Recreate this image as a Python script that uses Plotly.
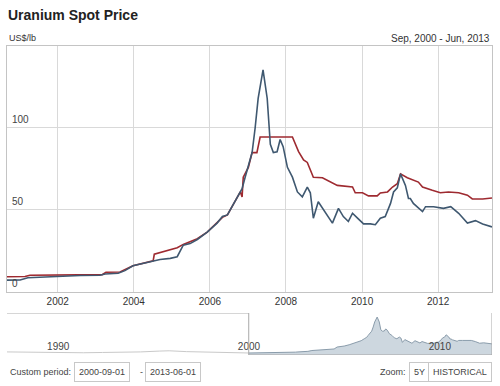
import plotly.graph_objects as go

# ---- data ----
spot_dates = ["2000-09-01","2001-01-05","2001-03-20","2001-07-12","2002-01-01","2002-08-04","2003-02-10","2003-04-01",
              "2003-08-04","2003-10-08","2003-12-24","2004-05-08","2004-07-05","2004-09-09","2004-12-16","2005-02-21",
              "2005-04-20","2005-06-25","2005-09-02","2005-12-06","2006-03-11","2006-05-01","2006-06-18","2006-07-24",
              "2006-10-01","2006-11-06","2006-12-05","2007-01-05","2007-02-10","2007-03-11","2007-04-09","2007-05-26",
              "2007-07-05","2007-08-04","2007-09-02","2007-10-08","2007-11-06","2007-12-05","2008-01-15","2008-03-03",
              "2008-04-20","2008-06-06","2008-07-24","2008-08-22","2008-09-20","2008-11-06","2009-01-15","2009-03-22",
              "2009-05-19","2009-07-05","2009-08-22","2009-10-01","2009-11-18","2010-01-15","2010-03-22","2010-05-08",
              "2010-06-25","2010-08-11","2010-10-01","2010-10-30","2010-12-05","2011-01-05","2011-02-21","2011-03-22",
              "2011-04-09","2011-05-08","2011-08-04","2011-09-02","2011-11-18","2012-02-21","2012-05-01","2012-07-16",
              "2012-10-08","2012-12-24","2013-03-03","2013-06-01"]
spot_values = [7.2, 7.3, 8.7, 9.0, 9.6, 10.0, 10.2, 11.0,
               11.4, 13.0, 16.0, 18.0, 19.0, 19.8, 20.5, 21.5,
               28.5, 29.5, 32.0, 36.5, 42.0, 46.0, 47.0, 51.0,
               59.0, 63.0, 70.0, 77.0, 85.0, 100.0, 118.0, 135.5,
               118.0, 90.0, 85.0, 85.5, 93.0, 88.6, 76.0, 70.0,
               61.0, 58.0, 64.0, 60.5, 45.0, 55.0, 48.0, 42.0,
               51.0, 46.0, 43.0, 48.0, 45.0, 41.5, 41.5, 41.0,
               45.0, 46.0, 54.0, 61.0, 63.5, 72.0, 65.0, 57.0,
               57.0, 54.0, 49.0, 52.0, 52.0, 51.0, 52.0, 48.0,
               42.0, 43.5, 41.5, 39.7]

lt_dates = ["2000-09-01","2001-02-21","2001-04-09","2002-01-01","2003-03-03","2003-04-09","2003-08-22","2003-12-24",
            "2004-05-08","2004-07-05","2004-07-16","2004-10-08","2005-02-21","2005-04-20","2005-06-25","2005-09-02",
            "2005-12-06","2006-03-11","2006-05-01","2006-06-18","2006-07-24","2006-10-01","2006-10-20","2006-11-06",
            "2006-11-17","2007-01-05","2007-02-10","2007-03-28","2007-04-28","2008-03-03","2008-05-01","2008-06-18",
            "2008-07-24","2008-09-20","2008-12-16","2009-05-08","2009-10-01","2009-10-27","2010-01-05","2010-03-03",
            "2010-05-26","2010-06-25","2010-09-02","2010-10-20","2010-12-05","2011-01-05","2011-03-11","2011-06-25",
            "2011-08-04","2011-11-06","2012-01-22","2012-04-09","2012-07-16","2012-10-08","2012-11-24","2013-03-03",
            "2013-06-01"]
lt_values = [9.3, 9.4, 10.2, 10.4, 10.6, 12.0, 12.2, 16.0,
             18.0, 19.0, 23.0, 24.4, 27.0, 29.0, 30.5, 32.5,
             36.5, 42.0, 45.5, 47.0, 51.0, 58.5, 61.0, 58.0,
             70.0, 76.0, 85.0, 85.0, 94.5, 94.5, 85.6, 80.5,
             79.0, 70.0, 69.7, 65.0, 64.0, 60.5, 60.5, 58.6,
             58.6, 60.4, 61.0, 64.0, 66.0, 72.0, 69.7, 67.0,
             64.0, 62.0, 60.5, 61.0, 60.5, 59.0, 56.7, 56.7,
             57.3]

hist_dates = ["1988-01-01","1989-01-01","1990-01-01","1991-01-01","1992-01-01","1993-01-01","1994-01-01",
              "1995-01-01","1996-01-01","1996-07-01","1997-06-01","1998-06-01","1999-06-01","2000-09-01"]
hist_values = [11, 10, 9.5, 9, 8, 9, 9.5, 11, 14, 15, 12, 10.5, 9.5, 7.2]

main_yticks = [0, 50, 100]
period = ["2000-09-01", "2013-06-01"]
nav_range = ["1988-01-01", "2013-06-01"]

BLUE = "#3f5870"
RED = "#9e2a30"
FONT = "Liberation Sans, Arial, sans-serif"

fig = go.Figure()
fig.add_trace(go.Scatter(x=lt_dates, y=lt_values, mode="lines", line=dict(color=RED, width=1.6),
                         xaxis="x", yaxis="y", hoverinfo="skip"))
fig.add_trace(go.Scatter(x=spot_dates, y=spot_values, mode="lines", line=dict(color=BLUE, width=1.6),
                         xaxis="x", yaxis="y", hoverinfo="skip"))
# navigator
fig.add_trace(go.Scatter(x=hist_dates, y=hist_values, mode="lines", line=dict(color="#c9c9c9", width=1),
                         xaxis="x2", yaxis="y2", hoverinfo="skip"))
fig.add_trace(go.Scatter(x=spot_dates, y=spot_values, mode="lines", line=dict(color="#8a9cab", width=1),
                         fill="tozeroy", fillcolor="#cdd7df", xaxis="x2", yaxis="y2", hoverinfo="skip"))

fig.update_layout(
    width=500, height=386,
    margin=dict(l=7, r=8, t=46, b=31),
    paper_bgcolor="white", plot_bgcolor="white",
    showlegend=False,
    font=dict(family=FONT, size=10, color="#333"),
    xaxis=dict(domain=[0, 1], range=period, type="date", anchor="y",
               tick0="2000-01-01", dtick="M24", tickformat="%Y",
               showgrid=True, gridcolor="#d9d9d9", gridwidth=1,
               showline=True, linecolor="#c4c4c4", mirror=True, linewidth=1,
               ticks="", tickfont=dict(size=10, color="#333"), zeroline=False),
    yaxis=dict(domain=[0.204, 1], range=[0, 150], anchor="x",
               tickvals=main_yticks, showticklabels=False,
               showgrid=True, gridcolor="#d9d9d9", gridwidth=1,
               showline=True, linecolor="#c4c4c4", mirror=True, linewidth=1,
               zeroline=False, ticks=""),
    xaxis2=dict(domain=[0, 1], range=nav_range, type="date", anchor="y2",
                tick0="1990-01-01", dtick="M120", tickformat="%Y",
                showgrid=False, showline=False, ticks="",
                ticklabelposition="inside", ticklabelshift=13, ticklabelstandoff=0,
                tickfont=dict(size=10, color="#444"), zeroline=False),
    yaxis2=dict(domain=[0, 0.136], range=[0, 150], anchor="x2",
                showgrid=False, showticklabels=False, showline=False, zeroline=False),
)

# navigator outline
line_style = dict(color="#a8a8a8", width=1)
fig.add_shape(type="line", xref="x2", yref="y2", x0=nav_range[0], x1=period[0], y0=150, y1=150, line=line_style)
fig.add_shape(type="line", xref="x2", yref="y2", x0=period[0], x1=period[0], y0=150, y1=0, line=line_style)
fig.add_shape(type="line", xref="x2", yref="y2", x0=period[0], x1=period[1], y0=0, y1=0, line=line_style)
fig.add_shape(type="line", xref="x2", yref="y2", x0=period[1], x1=period[1], y0=0, y1=150, line=line_style)

ann = []
# y axis labels sitting just above their gridlines
for v in main_yticks:
    ann.append(dict(text=str(v), xref="paper", yref="y", x=0.0, y=v, xshift=3, yshift=1,
                    xanchor="left", yanchor="bottom", showarrow=False, font=dict(size=10, color="#444")))

ann.append(dict(text="<b>Uranium Spot Price</b>", xref="paper", yref="paper", x=-0.002, y=1.0, yshift=31,
                xanchor="left", yanchor="middle", showarrow=False, font=dict(size=14, color="#222")))
ann.append(dict(text="US$/lb", xref="paper", yref="paper", x=0.0, y=1.0, yshift=8,
                xanchor="left", yanchor="middle", showarrow=False, font=dict(size=9, color="#333")))
ann.append(dict(text="Sep, 2000 - Jun, 2013", xref="paper", yref="paper", x=1.0, y=1.0, yshift=8,
                xanchor="right", yanchor="middle", showarrow=False, font=dict(size=10, color="#333")))

btn = dict(xref="paper", yref="paper", y=0, yshift=-17, yanchor="middle", showarrow=False,
           font=dict(size=9, color="#444"))
box = dict(bordercolor="#c8c8c8", borderwidth=1, borderpad=4, bgcolor="white")
ann.append(dict(text="Custom period:", x=0.002, xanchor="left", **btn))
ann.append(dict(text="2000-09-01", x=0.139, xanchor="left", **box, **btn))
ann.append(dict(text="-", x=0.270, xanchor="left", **btn))
ann.append(dict(text="2013-06-01", x=0.285, xanchor="left", **box, **btn))
ann.append(dict(text="Zoom:", x=0.765, xanchor="left", **btn))
ann.append(dict(text="5Y", x=0.829, xanchor="left", **box, **btn))
ann.append(dict(text="HISTORICAL", x=1.0, xanchor="right", **box, **btn))
fig.update_layout(annotations=ann)

fig.write_html("out.html", config={"displayModeBar": False},
               post_script="document.body.style.margin='0';document.body.style.overflow='hidden';")
